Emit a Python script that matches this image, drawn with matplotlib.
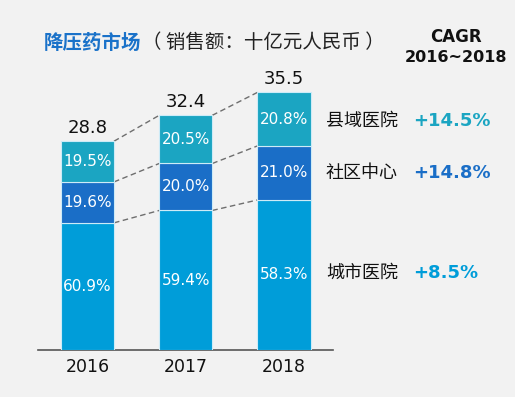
import matplotlib
matplotlib.use("Agg")
import matplotlib.pyplot as plt
import numpy as np

years = ["2016", "2017", "2018"]
totals = [28.8, 32.4, 35.5]
segments = ["城市医院", "社区中心", "县域医院"]
pct_city = [60.9, 59.4, 58.3]
pct_comm = [19.6, 20.0, 21.0]
pct_county = [19.5, 20.5, 20.8]
cagr = ["+8.5%", "+14.8%", "+14.5%"]

colors = ["#009DD9", "#1A6EC7", "#1BA5C2"]
bg = "#F2F2F2"
CJK = ["Noto Sans CJK SC", "DejaVu Sans"]

W, H = 515, 397
fig = plt.figure(figsize=(W / 100, H / 100), dpi=100, facecolor=bg)

def fx(px):
    return px / W

def fy(py):
    return 1 - py / H

ax_left, ax_right, base, ax_top = 38, 333, 350, 80
ax = fig.add_axes([fx(ax_left), fy(base), (ax_right - ax_left) / W, (base - ax_top) / H])
ax.set_facecolor(bg)
scale = 7.25
ax.set_ylim(0, (base - ax_top) / scale)
spacing = 98.3
ax.set_xlim(-49.5 / spacing, 2 + (ax_right - ax_left - 246) / spacing)

x = np.arange(len(years))
width = 0.54
pcts = [pct_city, pct_comm, pct_county]
bottoms = np.zeros(3)
bounds = []
for k, p in enumerate(pcts):
    vals = np.array(totals) * np.array(p) / 100
    ax.bar(x, vals, width, bottom=bottoms, color=colors[k], edgecolor="#CDEBF7", linewidth=0.8, zorder=3)
    for i in range(3):
        ax.text(x[i], bottoms[i] + vals[i] / 2, f"{p[i]:.1f}%", ha="center", va="center",
                color="white", fontsize=11, family="DejaVu Sans", zorder=4)
    bottoms = bottoms + vals
    bounds.append(bottoms.copy())

# dashed connectors
for b in bounds:
    for i in range(2):
        ax.plot([x[i] + width / 2, x[i + 1] - width / 2], [b[i], b[i + 1]],
                ls=(0, (4, 2.5)), color="#6E6E6E", lw=1, zorder=2)

for i in range(3):
    ax.text(x[i], totals[i] + 0.6, f"{totals[i]:.1f}", ha="center", va="bottom",
            fontsize=13, color="#111111", family="DejaVu Sans", clip_on=False)

for s in ["top", "right", "left"]:
    ax.spines[s].set_visible(False)
ax.spines["bottom"].set_color("#555555")
ax.spines["bottom"].set_linewidth(1.2)
ax.set_yticks([])
ax.set_xticks(x)
ax.set_xticklabels(years, fontsize=12.5, family="DejaVu Sans", color="#111111")
ax.tick_params(axis="x", length=0, pad=6)

# title
fig.text(fx(44), fy(43), "降压药市场", fontsize=14, fontweight="bold",
         color="#1A72C9", family=CJK, va="center", ha="left")
fig.text(fx(142), fy(43), "（ 销售额：十亿元人民币 ）", fontsize=14,
         color="#222222", family=CJK, va="center", ha="left")

fig.text(fx(456), fy(37), "CAGR", fontsize=12, fontweight="bold", ha="center", va="center",
         family="DejaVu Sans", color="#111111")
fig.text(fx(456), fy(57), "2016~2018", fontsize=11.5, fontweight="bold", ha="center", va="center",
         family="DejaVu Sans", color="#111111")

label_y = [273, 173, 121]
for k in range(3):
    fig.text(fx(326), fy(label_y[k]), segments[k], fontsize=13, family=CJK, color="#111111",
             va="center", ha="left")
    fig.text(fx(413), fy(label_y[k]), cagr[k], fontsize=13, fontweight="bold",
             family="DejaVu Sans", color=colors[k], va="center", ha="left")

fig.savefig("out.png", dpi=100, facecolor=bg)
